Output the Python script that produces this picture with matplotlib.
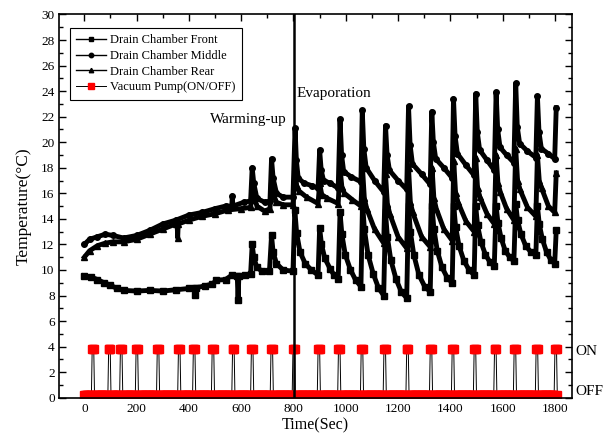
import numpy as np
import matplotlib.pyplot as plt
from matplotlib.ticker import MultipleLocator
import matplotlib.transforms as mtransforms

plt.rcParams['font.family'] = ['Liberation Serif', 'DejaVu Serif']

# Drain chamber temperatures (time in s, temperature in C)
front_time = [0, 25, 50, 75, 100, 125, 150, 200, 250, 300, 350, 400, 422, 424, 426,
              460, 490, 505, 540, 565, 585, 588, 591, 615, 636, 642, 648, 660, 680,
              708, 716, 722, 735, 760, 798,
              805, 812, 825, 845, 868, 894,
              900, 907, 920, 940, 955, 971,
              978, 985, 998, 1018, 1038, 1058,
              1064, 1071, 1085, 1105, 1125, 1145,
              1152, 1159, 1172, 1192, 1212, 1233,
              1240, 1247, 1260, 1280, 1302, 1323,
              1330, 1337, 1350, 1368, 1388, 1407,
              1413, 1420, 1433, 1452, 1472, 1491,
              1497, 1504, 1517, 1534, 1552, 1568,
              1575, 1582, 1594, 1610, 1627, 1643,
              1650, 1657, 1670, 1688, 1708, 1727,
              1733, 1740, 1752, 1768, 1784, 1799,
              1805]
front_temp = [9.55, 9.45, 9.25, 9.0, 8.8, 8.55, 8.4, 8.35, 8.4, 8.35, 8.45, 8.55, 8.6, 8.05, 8.6,
              8.75, 8.9, 9.2, 9.25, 9.6, 9.5, 7.65, 9.5, 9.6, 9.7, 12.0, 11.0, 10.2, 9.9,
              9.9, 12.7, 11.4, 10.5, 10.0, 9.9,
              14.7, 12.9, 11.4, 10.5, 10.0, 9.6,
              13.3, 12.0, 10.9, 10.1, 9.6, 9.3,
              14.5, 12.8, 11.2, 10.0, 9.2, 8.7,
              15.3, 13.2, 11.2, 9.7, 8.6, 8.0,
              14.5, 12.6, 10.8, 9.3, 8.3, 7.8,
              15.0, 13.0, 11.2, 9.6, 8.7, 8.3,
              15.0, 13.2, 11.5, 10.2, 9.4, 9.0,
              15.0, 13.4, 11.9, 10.7, 10.0, 9.6,
              15.0, 13.5, 12.2, 11.2, 10.6, 10.3,
              15.0, 13.7, 12.5, 11.5, 11.0, 10.7,
              15.2, 13.9, 12.8, 11.9, 11.4, 11.2,
              15.0, 13.6, 12.4, 11.4, 10.8, 10.5,
              13.1]

middle_time = [0, 20, 50, 80, 110, 150, 200, 250, 300, 350, 400, 450, 500, 540, 564, 566, 568,
               610, 636, 642, 648, 660, 690, 710, 716, 722, 735, 760, 798,
               806, 811, 818, 840, 870, 894,
               900, 906, 915, 940, 971,
               978, 984, 992, 1020, 1058,
               1063, 1069, 1078, 1110, 1145,
               1152, 1158, 1167, 1200, 1233,
               1240, 1246, 1255, 1290, 1323,
               1329, 1335, 1344, 1375, 1407,
               1412, 1418, 1427, 1460, 1491,
               1497, 1503, 1512, 1540, 1568,
               1575, 1581, 1590, 1615, 1643,
               1650, 1656, 1665, 1695, 1727,
               1733, 1739, 1748, 1775, 1799,
               1805]
middle_temp = [12.0, 12.4, 12.6, 12.8, 12.7, 12.5, 12.7, 13.1, 13.6, 13.9, 14.3, 14.5, 14.8, 15.0, 15.0, 15.8, 15.0,
               15.3, 15.4, 18.0, 16.8, 15.6, 15.3, 15.4, 18.7, 17.2, 16.0, 15.7, 15.7,
               21.1, 18.6, 17.2, 16.8, 16.6, 16.4,
               19.4, 17.8, 17.0, 16.8, 16.4,
               21.8, 19.0, 17.7, 17.3, 16.9,
               22.5, 19.5, 18.0, 17.0, 16.1,
               21.3, 19.0, 17.8, 17.0, 16.3,
               22.8, 19.8, 18.3, 17.5, 16.7,
               22.4, 20.0, 18.7, 18.0, 17.2,
               23.4, 20.5, 19.1, 18.2, 17.4,
               23.8, 20.8, 19.4, 18.6, 17.8,
               23.9, 21.0, 19.6, 19.0, 18.4,
               24.6, 21.2, 19.9, 19.3, 18.8,
               23.6, 20.8, 19.5, 19.1, 18.7,
               22.7]

rear_time = [0, 20, 50, 80, 110, 150, 200, 250, 300, 350, 355, 357, 359, 400, 450, 500, 550,
             600, 636, 642, 648, 660, 690, 710, 716, 722, 735, 760, 798,
             806, 812, 820, 850, 894,
             900, 908, 930, 971,
             978, 985, 995, 1025, 1058,
             1064, 1071, 1080, 1110, 1145,
             1152, 1159, 1168, 1200, 1233,
             1240, 1247, 1256, 1290, 1323,
             1330, 1337, 1346, 1375, 1407,
             1413, 1420, 1429, 1460, 1491,
             1497, 1504, 1513, 1540, 1568,
             1575, 1582, 1591, 1615, 1643,
             1650, 1657, 1666, 1695, 1727,
             1733, 1740, 1749, 1775, 1799,
             1805]
rear_temp = [11.0, 11.5, 11.9, 12.1, 12.2, 12.2, 12.4, 12.8, 13.2, 13.6, 13.6, 12.5, 13.6, 13.9, 14.2, 14.4, 14.7,
             14.8, 14.9, 16.5, 15.9, 15.0, 14.6, 14.8, 17.0, 16.0, 15.3, 15.1, 15.1,
             18.0, 16.6, 16.2, 15.7, 15.2,
             16.8, 15.9, 15.6, 15.2,
             18.0, 16.5, 16.0, 15.5, 15.0,
             18.0, 15.6, 14.8, 13.2, 12.1,
             17.5, 15.2, 14.4, 12.6, 11.7,
             18.0, 15.3, 14.5, 12.6, 11.8,
             18.0, 15.6, 14.8, 13.2, 12.3,
             18.5, 16.0, 15.3, 13.8, 13.0,
             18.8, 16.4, 15.7, 14.4, 13.6,
             19.0, 16.8, 16.1, 14.8, 13.9,
             19.5, 17.0, 16.3, 14.9, 14.2,
             19.0, 17.0, 16.4, 15.0, 14.5,
             17.6]

# Vacuum pump switching (seconds when the pump goes ON)
pump_on_times = [28, 91, 137, 198, 278, 358, 416, 488, 565, 638, 714, 798, 894, 971,
                 1058, 1145, 1233, 1323, 1407, 1491, 1568, 1643, 1727, 1799]
pump_on_length = 9
pump_off_level = 0.2
pump_on_level = 3.8
pump_end = 1810
sample_step = 3

phase_change = 802

# pump state on the logger's sampling clock
pump_time = np.arange(0, pump_end, sample_step)
is_on = np.zeros(pump_time.shape, dtype=bool)
for p in pump_on_times:
    is_on |= (pump_time >= p) & (pump_time < p + pump_on_length)
pump_state = np.where(is_on, pump_on_level, pump_off_level)

fig = plt.figure(figsize=(6.09, 4.46), dpi=100)
ax = fig.add_axes([0.0977, 0.1083, 0.8410, 0.8592])

# pump
ax.plot(pump_time, pump_state, '-s', color='k', lw=0.7, ms=5.8,
        mfc='red', mec='red', label='Vacuum Pump(ON/OFF)', zorder=2)

# temperatures: a thick trace under the marked line
for t, v, m, lab in [(front_time, front_temp, 's', 'Drain Chamber Front'),
                     (middle_time, middle_temp, 'o', 'Drain Chamber Middle'),
                     (rear_time, rear_temp, '^', 'Drain Chamber Rear')]:
    ax.plot(t, v, '-', color='k', lw=3.5, solid_joinstyle='round', zorder=3)
    ax.plot(t, v, '-' + m, color='k', lw=1, ms=4, label=lab, zorder=4)

ax.axvline(phase_change, color='k', lw=1.8, zorder=5)

ax.text(775, 21.8, 'Warming-up', ha='right', va='center', fontsize=11)
ax.text(812, 23.8, 'Evaporation', ha='left', va='center', fontsize=11)

trans = mtransforms.blended_transform_factory(ax.transAxes, ax.transData)
ax.text(1.008, 3.6, 'ON', transform=trans, ha='left', va='center', fontsize=11)
ax.text(1.008, 0.5, 'OFF', transform=trans, ha='left', va='center', fontsize=11)

ax.set_xlim(-95, 1864)
ax.set_ylim(0, 30)
ax.xaxis.set_major_locator(MultipleLocator(200))
ax.xaxis.set_minor_locator(MultipleLocator(100))
ax.yaxis.set_major_locator(MultipleLocator(2))
ax.yaxis.set_minor_locator(MultipleLocator(1))
ax.tick_params(which='both', direction='in', top=True, right=True, labelsize=9.5, width=1)
ax.tick_params(which='major', length=5)
ax.tick_params(which='minor', length=3)
for s in ax.spines.values():
    s.set_linewidth(1.2)

ax.set_xlabel('Time(Sec)', fontsize=11.5, labelpad=2)
ax.set_ylabel('Temperature(°C)', fontsize=12.5, labelpad=7)

handles, labels = ax.get_legend_handles_labels()
order = [1, 2, 3, 0]
leg = ax.legend([handles[i] for i in order], [labels[i] for i in order],
                loc='upper left', bbox_to_anchor=(0.0205, 0.965), borderaxespad=0,
                fontsize=9, fancybox=False, framealpha=1, edgecolor='k',
                handlelength=2.4, handletextpad=0.3, labelspacing=0.3, borderpad=0.5,
                markerscale=0.8)
leg.get_frame().set_linewidth(0.8)

fig.savefig('out.png', dpi=100)
